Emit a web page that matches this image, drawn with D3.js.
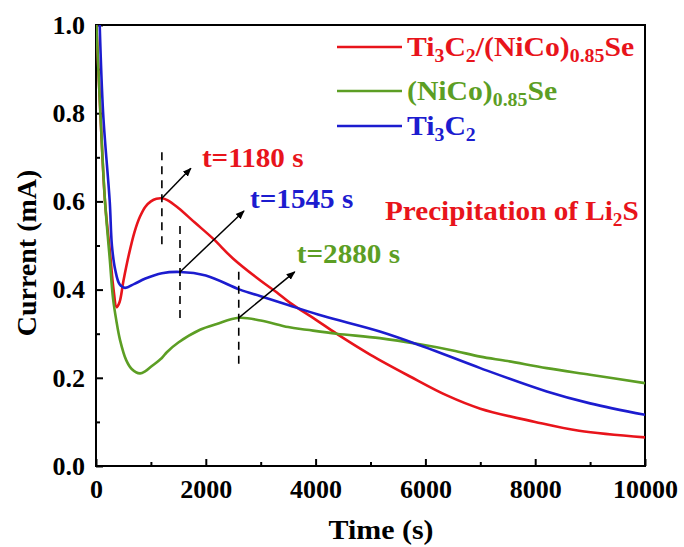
<!DOCTYPE html>
<html>
<head>
<meta charset="utf-8">
<script src="https://cdn.jsdelivr.net/npm/d3@7"></script>
<style>
  body { margin: 0; background: #fff; }
</style>
</head>
<body>
<div id="container"></div>
<script>
// data
var timeRed = [0, 80, 164, 255, 320, 375, 430, 500, 600, 700, 800, 900, 1000, 1100, 1200, 1300, 1500, 1800, 2137, 2500, 3000, 3290, 3535, 4000, 4380, 5000, 5720, 6390, 7000, 8000, 8800, 10000];
var currentRed = [1.02, 0.8, 0.6, 0.484, 0.40, 0.36, 0.372, 0.42, 0.48, 0.53, 0.565, 0.588, 0.600, 0.606, 0.607, 0.603, 0.585, 0.552, 0.515, 0.47, 0.42, 0.394, 0.37, 0.332, 0.30, 0.252, 0.203, 0.16, 0.13, 0.10, 0.08, 0.065];

var timeGreen = [0, 80, 164, 250, 310, 370, 437, 550, 650, 800, 900, 1000, 1200, 1290, 1500, 1895, 2200, 2600, 3000, 3500, 3840, 4380, 5170, 5900, 6500, 7000, 7500, 8210, 9000, 10000];
var currentGreen = [1.02, 0.8, 0.6, 0.47, 0.38, 0.33, 0.286, 0.24, 0.22, 0.21, 0.215, 0.225, 0.245, 0.258, 0.28, 0.309, 0.322, 0.336, 0.33, 0.315, 0.309, 0.30, 0.29, 0.276, 0.262, 0.248, 0.238, 0.222, 0.207, 0.188];

var timeBlue = [60, 130, 250, 290, 350, 430, 528, 700, 900, 1200, 1530, 2000, 2620, 3000, 3500, 4140, 5170, 5960, 7000, 8210, 9000, 10000];
var currentBlue = [1.03, 0.8, 0.6, 0.5, 0.445, 0.412, 0.404, 0.413, 0.425, 0.437, 0.44, 0.432, 0.40, 0.385, 0.365, 0.34, 0.305, 0.271, 0.222, 0.169, 0.142, 0.116];

var xTicks = [0, 2000, 4000, 6000, 8000, 10000];
var yTicks = [0.0, 0.2, 0.4, 0.6, 0.8, 1.0];

// where the dashed markers stand, and what the labels say
var peakTimes = [1200, 1530, 2600];
var peakLabels = ["t=1180 s", "t=1545 s", "t=2880 s"];

var colors = { red: "#e8141b", green: "#5c9e24", blue: "#1c1ccf" };
var FONT = "'Liberation Serif', 'DejaVu Serif', 'Times New Roman', serif";

var width = 684, height = 547;
var margin = { top: 25, right: 39, bottom: 81, left: 96 };

var svg = d3.select("#container").append("svg")
    .attr("width", width)
    .attr("height", height)
    .attr("font-family", FONT)
    .attr("font-weight", "bold");

var x = d3.scaleLinear().domain([0, 10000]).range([margin.left, width - margin.right]);
var y = d3.scaleLinear().domain([0, 1.0]).range([height - margin.bottom, margin.top]);

// the source figure's lettering is a bit wider than Times, so stretch it
function wideText(px, py, size, sx)
{
    return svg.append("text")
        .attr("transform", "translate(" + px + "," + py + ") scale(" + (sx || 1.08) + ",1)")
        .attr("font-size", size);
}

svg.append("clipPath").attr("id", "clip")
    .append("rect")
    .attr("x", margin.left).attr("y", margin.top)
    .attr("width", width - margin.left - margin.right)
    .attr("height", height - margin.top - margin.bottom);

// axes, ticks pointing inward
var xAxis = svg.append("g")
    .attr("transform", "translate(0," + (height - margin.bottom) + ")")
    .call(d3.axisBottom(x).tickValues(d3.range(0, 10001, 1000)).tickSize(-7).tickPadding(12)
        .tickFormat(function (d) { return xTicks.indexOf(d) >= 0 ? d : ""; }));

var yAxis = svg.append("g")
    .attr("transform", "translate(" + margin.left + ",0)")
    .call(d3.axisLeft(y).tickValues(d3.range(0, 11).map(function (i) { return i / 10; })).tickSize(-7).tickPadding(11)
        .tickFormat(function (d) {
            var hit = yTicks.find(function (t) { return Math.abs(t - d) < 1e-9; });
            return hit === undefined ? "" : d3.format(".1f")(d);
        }));

[xAxis, yAxis].forEach(function (ax)
{
    ax.attr("font-family", FONT).attr("font-size", 26);
    ax.select(".domain").remove();
    ax.selectAll("text").attr("fill", "#000");
    ax.selectAll("line").attr("stroke", "#000").attr("stroke-width", 2);
});
// minor ticks shorter
xAxis.selectAll(".tick").filter(function (d) { return xTicks.indexOf(d) < 0; })
    .select("line").attr("y2", -4);
yAxis.selectAll(".tick").filter(function (d) { return Math.round(d * 10) % 2 !== 0; })
    .select("line").attr("x2", 4);
xAxis.selectAll("text").attr("dy", "0.75em");

// frame
svg.append("rect")
    .attr("x", margin.left).attr("y", margin.top)
    .attr("width", width - margin.left - margin.right)
    .attr("height", height - margin.top - margin.bottom)
    .attr("fill", "none").attr("stroke", "#000").attr("stroke-width", 2);

// axis titles
wideText(381, 539, 28, 1.07)
    .attr("text-anchor", "middle")
    .text("Time (s)");

svg.append("text")
    .attr("transform", "translate(36,253) rotate(-90)")
    .attr("text-anchor", "middle")
    .attr("font-size", 28)
    .text("Current (mA)");

// curves
var line = d3.line()
    .x(function (d) { return x(d[0]); })
    .y(function (d) { return y(d[1]); })
    .curve(d3.curveCatmullRom.alpha(0.5));

var series = [
    { t: timeRed, v: currentRed, color: colors.red },
    { t: timeGreen, v: currentGreen, color: colors.green },
    { t: timeBlue, v: currentBlue, color: colors.blue }
];

var plot = svg.append("g").attr("clip-path", "url(#clip)");
series.forEach(function (s)
{
    plot.append("path")
        .datum(d3.zip(s.t, s.v))
        .attr("fill", "none")
        .attr("stroke", s.color)
        .attr("stroke-width", 2.6)
        .attr("d", line);
});

// value of a series at a given time (linear between read points)
function valueAt(s, t)
{
    var i = d3.bisectLeft(s.t, t);
    if (i <= 0) return s.v[0];
    if (i >= s.t.length) return s.v[s.t.length - 1];
    var k = (t - s.t[i - 1]) / (s.t[i] - s.t[i - 1]);
    return s.v[i - 1] + k * (s.v[i] - s.v[i - 1]);
}

// arrow marker
svg.append("defs").append("marker")
    .attr("id", "arrow")
    .attr("viewBox", "0 0 10 10")
    .attr("refX", 9).attr("refY", 5)
    .attr("markerWidth", 9).attr("markerHeight", 9)
    .attr("markerUnits", "userSpaceOnUse")
    .attr("orient", "auto")
    .append("path")
    .attr("d", "M0,1 L10,5 L0,9 z")
    .attr("fill", "#000");

var arrowOffsets = [[29, -30], [64, -61], [56, -46]];
var labelOffsets = [[11, -1], [6, -3], [2, -9]];
var markerSeries = [series[0], series[2], series[1]];

peakTimes.forEach(function (t, i)
{
    var s = markerSeries[i];
    var px = x(t), py = y(valueAt(s, t));

    svg.append("line")
        .attr("x1", px).attr("x2", px)
        .attr("y1", py - 46).attr("y2", py + 46)
        .attr("stroke", "#000").attr("stroke-width", 1.6)
        .attr("stroke-dasharray", "8,6");

    var tx = px + arrowOffsets[i][0], ty = py + arrowOffsets[i][1];
    svg.append("line")
        .attr("x1", px).attr("y1", py)
        .attr("x2", tx).attr("y2", ty)
        .attr("stroke", "#000").attr("stroke-width", 1.5)
        .attr("marker-end", "url(#arrow)");

    wideText(tx + labelOffsets[i][0], ty + labelOffsets[i][1], 27)
        .attr("fill", s.color)
        .text(peakLabels[i]);
});

// Precipitation of Li2S
var prec = wideText(385, 220, 27).attr("fill", colors.red);
prec.append("tspan").text("Precipitation of Li");
prec.append("tspan").attr("dy", 6).attr("font-size", 18).text("2");
prec.append("tspan").attr("dy", -6).text("S");

// legend
var legendParts = [
    [["Ti", 0], ["3", 1], ["C", 0], ["2", 1], ["/(NiCo)", 0], ["0.85", 1], ["Se", 0]],
    [["(NiCo)", 0], ["0.85", 1], ["Se", 0]],
    [["Ti", 0], ["3", 1], ["C", 0], ["2", 1]]
];
var legendColors = [colors.red, colors.green, colors.blue];
var legendY = [47, 91, 126];

legendParts.forEach(function (parts, i)
{
    svg.append("line")
        .attr("x1", 337).attr("x2", 402)
        .attr("y1", legendY[i]).attr("y2", legendY[i])
        .attr("stroke", legendColors[i]).attr("stroke-width", 2.6);

    var t = wideText(407, legendY[i] + 9, 27, 1.1)
        .attr("fill", legendColors[i]);
    var prev = 0;
    parts.forEach(function (p)
    {
        var shift = (p[1] - prev) * 6;
        t.append("tspan")
            .attr("dy", shift)
            .attr("font-size", p[1] ? 18 : 27)
            .text(p[0]);
        prev = p[1];
    });
});
</script>
</body>
</html>
